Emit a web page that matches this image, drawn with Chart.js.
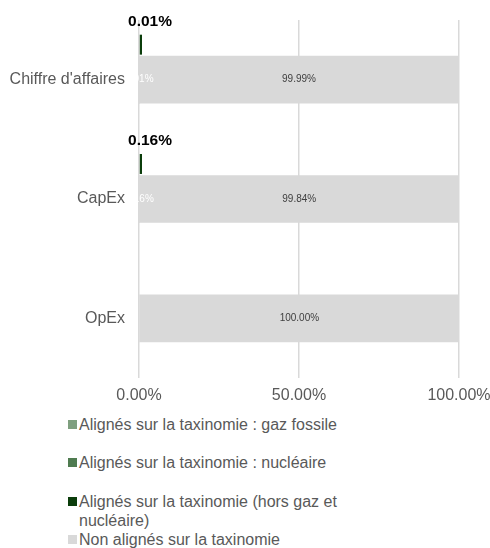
<!DOCTYPE html>
<html lang="fr">
<head>
<meta charset="utf-8">
<title>Taxinomie</title>
<script src="https://cdn.jsdelivr.net/npm/chart.js@4/dist/chart.umd.min.js"></script>
<style>
  body { margin: 0; background: #fff; font-family: "Liberation Sans", Arial, sans-serif; }
  #page { position: relative; width: 490px; height: 548px; overflow: hidden; }
  #zone { position: absolute; left: 0; top: 0; width: 490px; height: 411px; }
  #legende { position: absolute; left: 68px; top: 415px; width: 320px; }
  .item { position: relative; height: 38.4px; font-size: 16px; line-height: 19px; color: #595959; }
  .item .carre { position: absolute; left: 0; top: 5px; width: 9px; height: 9px; }
  .item .texte { position: absolute; left: 11px; top: 0; width: 276px; }
</style>
</head>
<body>
<div id="page">
  <div id="zone"><canvas id="graphique"></canvas></div>
  <div id="legende"></div>
</div>
<script>
// Données du graphique (en %)
const categories = ["Chiffre d'affaires", 'CapEx', 'OpEx'];
const gazFossile = [0, 0, 0];
const nucleaire = [0, 0, 0];
const alignesHorsGaz = [0.01, 0.16, 0];
const nonAlignes = [99.99, 99.84, 100];
const ticksX = [0, 50, 100];

const libelles = {
    gaz: 'Alignés sur la taxinomie : gaz fossile',
    nucleaire: 'Alignés sur la taxinomie : nucléaire',
    horsGaz: 'Alignés sur la taxinomie (hors gaz et nucléaire)',
    non: 'Non alignés sur la taxinomie'
};

const couleurs = {
    gaz: '#7f9f7f',
    nucleaire: '#4f7b50',
    horsGaz: '#0b3d0b',
    non: '#d9d9d9'
};

const police = '"Liberation Sans", Arial, sans-serif';

function formatPct(v) {
    return v.toFixed(2) + '%';
}

// Plugin pour écrire les valeurs sur les barres
const etiquettes = {
    id: 'etiquettes',
    afterDatasetsDraw(chart) {
        const ctx = chart.ctx;
        chart.data.datasets.forEach((ds, i) => {
            if (!ds.etiquette) return;
            const meta = chart.getDatasetMeta(i);
            meta.data.forEach((barre, j) => {
                const v = ds.data[j];
                if (v === null || v === 0) return;
                ctx.save();
                ctx.textBaseline = 'middle';
                ctx.textAlign = 'center';
                if (ds.etiquette === 'dessus') {
                    // valeur en gras au-dessus de la petite barre
                    ctx.font = 'bold 15.5px ' + police;
                    ctx.fillStyle = '#000';
                    ctx.fillText(formatPct(v), barre.x + 8, barre.y - barre.height / 2 - 13);
                } else {
                    ctx.font = '10px ' + police;
                    ctx.fillStyle = ds.etiquette;
                    ctx.fillText(formatPct(v), (barre.x + barre.base) / 2, barre.y);
                }
                ctx.restore();
            });
        });
    }
};

const graphique = new Chart(document.getElementById('graphique'), {
    type: 'bar',
    data: {
        labels: categories,
        datasets: [
            {
                label: libelles.horsGaz,
                data: alignesHorsGaz.map(v => v || null),
                stack: 'haut',
                backgroundColor: couleurs.horsGaz,
                categoryPercentage: 0.88,
                barPercentage: 0.57,
                minBarLength: 3,
                etiquette: 'dessus'
            },
            {
                // même série, dans la barre totale (trop fine pour être vue)
                label: libelles.horsGaz,
                data: alignesHorsGaz,
                stack: 'total',
                backgroundColor: couleurs.non,
                barThickness: 47,
                etiquette: '#ffffff'
            },
            {
                label: libelles.non,
                data: nonAlignes,
                stack: 'total',
                backgroundColor: couleurs.non,
                barThickness: 47,
                etiquette: '#404040'
            },
            {
                label: libelles.gaz,
                data: gazFossile,
                stack: 'autres',
                backgroundColor: couleurs.gaz
            },
            {
                label: libelles.nucleaire,
                data: nucleaire,
                stack: 'autres',
                backgroundColor: couleurs.nucleaire
            }
        ]
    },
    options: {
        indexAxis: 'y',
        responsive: true,
        maintainAspectRatio: false,
        animation: false,
        layout: { padding: { top: 20, left: 10, right: 31, bottom: 0 } },
        plugins: {
            legend: { display: false },
            tooltip: { enabled: false }
        },
        scales: {
            x: {
                min: 0,
                max: 100,
                afterBuildTicks: axe => { axe.ticks = ticksX.map(v => ({ value: v })); },
                afterFit: axe => {
                    axe.height = 33;
                    axe.paddingLeft = 0;
                    axe.paddingRight = 0;
                },
                grid: { color: '#d9d9d9', lineWidth: 1.5, drawTicks: false },
                border: { display: false },
                ticks: {
                    padding: 8,
                    color: '#595959',
                    font: { family: police, size: 16 },
                    callback: v => formatPct(v)
                }
            },
            y: {
                afterFit: axe => {
                    axe.width = 129;
                    axe.paddingTop = 0;
                    axe.paddingBottom = 0;
                },
                grid: { display: false, drawTicks: false },
                border: { display: false },
                ticks: {
                    padding: 14,
                    color: '#595959',
                    font: { family: police, size: 16 }
                }
            }
        }
    },
    plugins: [etiquettes]
});

// Légende construite à la main (ordre du graphique d'origine)
const ordreLegende = [3, 4, 0, 2];
const legende = document.getElementById('legende');
ordreLegende.forEach(i => {
    const ds = graphique.data.datasets[i];
    const item = document.createElement('div');
    item.className = 'item';
    item.innerHTML = '<span class="carre" style="background:' + ds.backgroundColor + '"></span>' +
        '<span class="texte">' + ds.label + '</span>';
    legende.appendChild(item);
});
</script>
</body>
</html>
